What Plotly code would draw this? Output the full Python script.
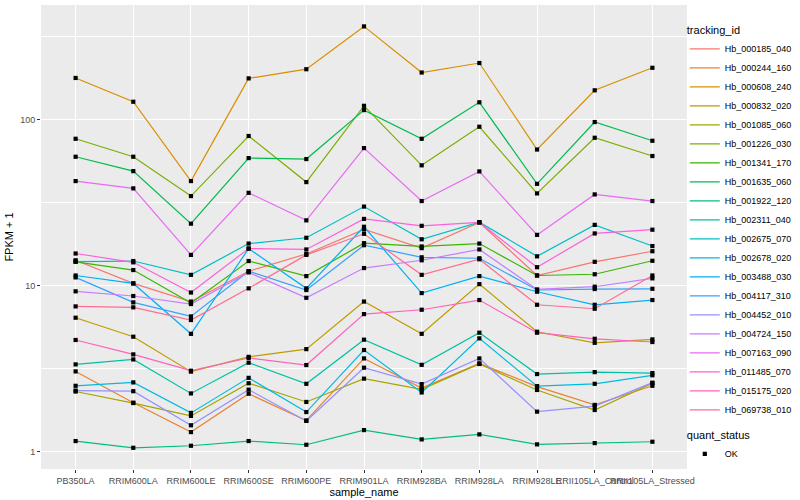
import plotly.graph_objects as go

samples = ["PB350LA", "RRIM600LA", "RRIM600LE", "RRIM600SE", "RRIM600PE", "RRIM901LA",
           "RRIM928BA", "RRIM928LA", "RRIM928LE", "RRII105LA_Control", "RRII105LA_Stressed"]

# FPKM + 1 values per tracking_id
Hb_000185_040 = [14.2, 10.3, 8.01, 12.2, 15.5, 21.8, 16.8, 24.0, 11.5, 13.9, 16.1]
Hb_000244_160 = [3.04, 1.97, 1.31, 2.23, 1.54, 3.64, 2.41, 3.40, 2.46, 1.91, 2.49]
Hb_000608_240 = [178, 128, 42.6, 177, 201, 364, 192, 219, 66, 150, 205]
Hb_000832_020 = [6.40, 4.92, 3.03, 3.72, 4.14, 8.01, 5.12, 10.2, 5.27, 4.52, 4.74]
Hb_001085_060 = [2.30, 1.96, 1.64, 2.58, 1.99, 2.75, 2.37, 3.37, 2.35, 1.78, 2.58]
Hb_001226_030 = [76.6, 59.7, 34.6, 79.6, 42.0, 121, 53.0, 90.5, 35.9, 77.7, 60.3]
Hb_001341_170 = [13.9, 12.4, 7.85, 14.05, 11.4, 18.0, 17.2, 17.9, 11.5, 11.7, 14.1]
Hb_001635_060 = [59.7, 48.9, 23.6, 58.6, 57.8, 114, 76.6, 127, 41.0, 96.6, 74.5]
Hb_001922_120 = [1.157, 1.054, 1.084, 1.157, 1.099, 1.347, 1.184, 1.269, 1.105, 1.125, 1.146]
Hb_002311_040 = [3.35, 3.59, 2.24, 3.43, 2.56, 4.72, 3.33, 5.20, 2.93, 3.01, 2.97]
Hb_002675_070 = [13.95, 14.05, 11.6, 17.9, 19.4, 29.9, 19.0, 24.1, 15.0, 23.2, 17.3]
Hb_002678_020 = [2.49, 2.61, 1.71, 2.78, 1.73, 4.09, 2.27, 4.81, 2.48, 2.56, 2.88]
Hb_003488_030 = [11.5, 10.3, 5.12, 16.7, 9.62, 22.6, 9.01, 11.4, 9.18, 7.66, 8.18]
Hb_004117_310 = [11.2, 7.92, 6.52, 12.2, 9.40, 17.5, 14.8, 14.6, 9.40, 9.53, 9.56]
Hb_004452_010 = [2.33, 2.31, 1.44, 2.36, 1.53, 3.20, 2.55, 3.64, 1.74, 1.88, 2.60]
Hb_004724_150 = [9.23, 8.65, 7.74, 12.0, 8.44, 12.75, 14.2, 16.5, 9.48, 9.84, 11.05]
Hb_007163_090 = [42.6, 38.5, 15.3, 36.2, 24.7, 67.3, 32.3, 48.7, 20.2, 35.4, 32.3]
Hb_011485_070 = [15.6, 13.8, 9.08, 16.7, 16.5, 25.2, 22.9, 24.0, 12.9, 20.6, 21.7]
Hb_015175_020 = [4.70, 3.85, 3.07, 3.66, 3.32, 6.73, 7.15, 8.18, 5.20, 4.78, 4.57]
Hb_069738_010 = [7.49, 7.39, 6.20, 9.62, 15.3, 20.5, 11.6, 14.4, 7.66, 7.25, 11.5]

tracking_ids = ["Hb_000185_040", "Hb_000244_160", "Hb_000608_240", "Hb_000832_020",
                "Hb_001085_060", "Hb_001226_030", "Hb_001341_170", "Hb_001635_060",
                "Hb_001922_120", "Hb_002311_040", "Hb_002675_070", "Hb_002678_020",
                "Hb_003488_030", "Hb_004117_310", "Hb_004452_010", "Hb_004724_150",
                "Hb_007163_090", "Hb_011485_070", "Hb_015175_020", "Hb_069738_010"]
series = [Hb_000185_040, Hb_000244_160, Hb_000608_240, Hb_000832_020, Hb_001085_060,
          Hb_001226_030, Hb_001341_170, Hb_001635_060, Hb_001922_120, Hb_002311_040,
          Hb_002675_070, Hb_002678_020, Hb_003488_030, Hb_004117_310, Hb_004452_010,
          Hb_004724_150, Hb_007163_090, Hb_011485_070, Hb_015175_020, Hb_069738_010]

colors = ["#F8766D", "#EA8331", "#D89000", "#C09B00", "#A3A500", "#7CAE00", "#39B600",
          "#00BB4E", "#00BF7D", "#00C1A3", "#00BFC4", "#00BAE0", "#00B0F6", "#35A2FF",
          "#9590FF", "#C77CFF", "#E76BF3", "#FA62DB", "#FF62BC", "#FF6C91"]

FONT = "Liberation Sans, Arial, sans-serif"

fig = go.Figure()
for name, vals, col in zip(tracking_ids, series, colors):
    fig.add_trace(go.Scatter(x=samples, y=vals, mode="lines", name=name,
                             line=dict(color=col, width=1.2), legend="legend"))

all_x = [s for _ in series for s in samples]
all_y = [v for vals in series for v in vals]
fig.add_trace(go.Scatter(x=all_x, y=all_y, mode="markers", name="OK",
                         marker=dict(symbol="square", size=4.2, color="black"),
                         legend="legend2"))

fig.update_layout(
    width=800, height=500,
    margin=dict(l=41, r=113, t=5, b=31, autoexpand=False),
    paper_bgcolor="white",
    plot_bgcolor="#EBEBEB",
    font=dict(family=FONT, size=9, color="black"),
    xaxis=dict(type="category", categoryorder="array", categoryarray=samples,
               range=[-0.6, len(samples) - 0.4], automargin=False,
               showgrid=True, gridcolor="white", gridwidth=1.1,
               zeroline=False, showline=False,
               ticks="outside", ticklen=3, tickcolor="#333333", tickwidth=1,
               tickangle=0, tickfont=dict(size=9, color="#4D4D4D"),
               title=dict(text="sample_name", font=dict(size=11, color="black"), standoff=2)),
    yaxis=dict(type="log", range=[-0.105, 2.69], automargin=False,
               tickvals=[1, 10, 100], ticktext=["1", "10", "100"],
               showgrid=True, gridcolor="white", gridwidth=1.1,
               minor=dict(tickvals=[3.1623, 31.623, 316.23], showgrid=True,
                          gridcolor="white", gridwidth=0.5, ticks=""),
               zeroline=False, showline=False,
               ticks="outside", ticklen=3, tickcolor="#333333", tickwidth=1,
               tickfont=dict(size=9, color="#4D4D4D"),
               title=dict(text="FPKM + 1", font=dict(size=11, color="black"), standoff=4)),
    legend=dict(xref="container", yref="container", x=0.856, y=0.96,
                xanchor="left", yanchor="top", maxheight=480,
                title=dict(text="tracking_id", font=dict(size=11)),
                font=dict(size=9), itemwidth=30, tracegroupgap=0,
                bgcolor="rgba(0,0,0,0)"),
    legend2=dict(xref="container", yref="container", x=0.856, y=0.15,
                 xanchor="left", yanchor="top",
                 title=dict(text="quant_status", font=dict(size=11)),
                 font=dict(size=9), itemwidth=30,
                 bgcolor="rgba(0,0,0,0)"),
)

fig.write_html("out.html", config={"displayModeBar": False},
               post_script="document.body.style.margin='0px';")
